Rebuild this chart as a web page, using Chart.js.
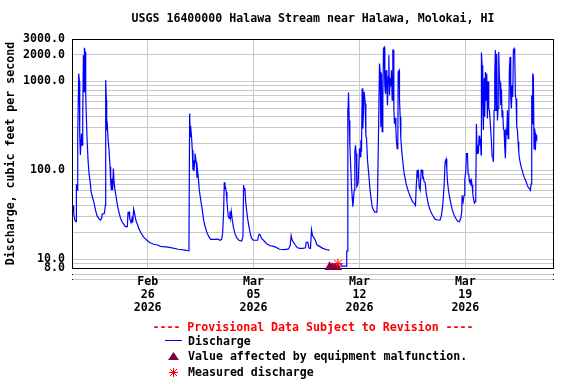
<!DOCTYPE html>
<html>
<head>
<meta charset="utf-8">
<title>USGS 16400000 Halawa Stream near Halawa, Molokai, HI</title>
<script src="https://cdn.jsdelivr.net/npm/chart.js@4.4.1/dist/chart.umd.min.js"></script>
<style>
  body { margin: 0; background: #fff; }
  #wrap { position: relative; width: 576px; height: 384px; font: bold 11.6px "DejaVu Sans Mono", monospace; color: #000; }
  #chart { position: absolute; left: 0; top: 0; }
  #notice { position: absolute; left: 72px; width: 482px; top: 319px; line-height: 16px; text-align: center; color: #f00; white-space: pre; }
  .item { position: absolute; left: 188px; line-height: 16px; white-space: pre; }
  .sym { position: absolute; display: block; }
</style>
</head>
<body>
<div id="wrap">
  <canvas id="chart" width="576" height="384"></canvas>
  <div id="notice">---- Provisional Data Subject to Revision ----</div>
  <span class="sym" style="left:165px;top:340px;width:17px;border-top:1px solid #00f"></span>
  <div class="item" style="top:333px">Discharge</div>
  <svg class="sym" style="left:168px;top:352px" width="11" height="8"><polygon points="5.5,0 11,8 0,8" fill="#800040"/></svg>
  <div class="item" style="top:348px">Value affected by equipment malfunction.</div>
  <svg class="sym" style="left:169px;top:368px" width="9" height="9"><path d="M4.5 0V9M0 4.5H9M1 1L8 8M8 1L1 8" stroke="#f00" stroke-width="1"/></svg>
  <div class="item" style="top:364px">Measured discharge</div>
</div>
<script>
// day 0 = Feb 21 2026 00:00
const startDate = Date.UTC(2026, 1, 21);
const monthNames = ['Jan', 'Feb', 'Mar', 'Apr', 'May', 'Jun', 'Jul', 'Aug', 'Sep', 'Oct', 'Nov', 'Dec'];

// Discharge, days since start / cfs (null = no data)
const days = [
  0.070, 0.114, 0.181, 0.269, 0.291, 0.335, 0.379, 0.445, 0.489, 0.511,
  0.555, 0.621, 0.665, 0.709, 0.753, 0.797, 0.819, 0.863, 0.907, 0.929,
  0.995, 1.061, 1.127, 1.215, 1.259, 1.347, 1.435, 1.501, 1.567, 1.656,
  1.766, 1.876, 1.964, 1.986, 2.140, 2.206, 2.228, 2.272, 2.294, 2.338,
  2.382, 2.448, 2.514, 2.558, 2.602, 2.646, 2.690, 2.734, 2.778, 2.844,
  2.933, 3.021, 3.109, 3.197, 3.307, 3.417, 3.527, 3.659, 3.703, 3.769,
  3.813, 3.901, 3.967, 4.011, 4.077, 4.121, 4.187, 4.254, 4.342, 4.430,
  4.562, 4.738, 4.914, 5.134, 5.398, 5.663, 5.839,
  6.367, 7.028, 7.468, 7.688, 7.732, 7.776, 7.820, 7.842, 7.908, 7.952,
  7.996, 8.018, 8.062, 8.106, 8.128, 8.216, 8.260, 8.304, 8.349, 8.415,
  8.525, 8.613, 8.701, 8.789, 8.899, 9.009, 9.163, 9.559, 9.625, 9.781,
  9.890, 9.956, 10.022, 10.066, 10.110, 10.154, 10.198, 10.242, 10.330, 10.396,
  10.441, 10.485, 10.529, 10.595, 10.683, 10.771, 10.881, 11.034, 11.211, 11.299,
  11.343, 11.387, 11.431, 11.475, 11.541, 11.607, 11.695, 11.783, 11.871, 11.982,
  12.268, 12.356, 12.422, 12.532, 12.752,
  12.840, 13.060, 13.391, 13.721, 14.051, 14.311, 14.421, 14.487, 14.553, 14.641,
  14.751, 14.883, 15.037, 15.258, 15.434, 15.478, 15.588, 15.654, 15.764, 15.830,
  15.896, 15.984, 16.076, 16.186, 16.362, 16.583, 16.803, 17.023, 17.400, 17.740,
  17.850, 18.150, 18.160, 18.210, 18.225, 18.240, 18.278, 18.322, 18.366, 18.432,
  18.476, 18.520, 18.564, 18.608, 18.652, 18.696, 18.740, 18.784, 18.828, 18.872,
  18.917, 19.005, 19.049, 19.093, 19.137, 19.181, 19.225,
  19.313, 19.379, 19.423, 19.467, 19.533, 19.621, 19.687, 19.753, 19.841, 19.929,
  20.018, 20.150, 20.194, 20.282, 20.326, 20.370, 20.414, 20.458, 20.502, 20.546,
  20.590, 20.634, 20.678, 20.722, 20.766, 20.810, 20.854, 20.898, 20.942, 20.986,
  21.030, 21.074, 21.118, 21.163, 21.207, 21.251, 21.273, 21.317, 21.361, 21.405,
  21.449, 21.493, 21.537, 21.559, 21.625, 21.647, 21.691, 21.735, 21.801, 21.867,
  21.911, 21.977, 22.043, 22.109, 22.175, 22.242, 22.308, 22.396, 22.506, 22.616,
  22.704, 22.748, 22.814, 22.858, 22.902, 22.946, 23.012, 23.078, 23.144, 23.188,
  23.232, 23.276, 23.342, 23.408, 23.474, 23.562, 23.650, 23.760, 23.870, 24.002,
  24.156, 24.333, 24.421, 24.509, 24.597, 24.663, 24.729, 24.773, 24.817, 24.883,
  24.971, 25.059, 25.147, 25.257, 25.367, 25.477, 25.609, 25.697, 25.763,
  25.786, 25.852, 25.918, 25.963, 26.029, 26.073, 26.139, 26.183, 26.227, 26.271,
  26.315, 26.359, 26.403, 26.447, 26.491, 26.557, 26.601, 26.645, 26.689, 26.733,
  26.777, 26.821, 26.865, 26.909, 26.953, 26.997, 27.041, 27.063, 27.107, 27.151,
  27.195, 27.239, 27.283, 27.327, 27.371, 27.415, 27.459, 27.503, 27.547, 27.591,
  27.636, 27.680, 27.724, 27.768, 27.812, 27.856, 27.900, 27.944, 27.988, 28.032,
  28.076, 28.120, 28.164, 28.208, 28.252, 28.296, 28.340, 28.384, 28.428, 28.472,
  28.516, 28.560, 28.604, 28.648, 28.692, 28.737, 28.781, 28.825, 28.869, 28.913,
  28.957, 29.001, 29.045, 29.089, 29.133, 29.177, 29.221, 29.265, 29.309, 29.353,
  29.397, 29.441, 29.485, 29.529, 29.573, 29.639, 29.705, 29.771, 29.837, 29.903,
  29.969, 30.035, 30.101, 30.167, 30.233, 30.299, 30.343, 30.387, 30.409, 30.453,
  30.497, 30.541, 30.585, 30.629, 30.673, 30.717
];
const flow = [
  40.7, 32.9, 27.7, 26.5, 70, 60, 249, 1230, 1000, 249,
  149, 260, 192, 401, 1977, 766, 2394, 2150, 720, 520,
  228, 130, 92.5, 71, 58, 50.6, 44.5, 39.6, 35, 31,
  28.9, 27.7, 28.9, 32.3, 33, 40.7, 1035, 617, 284, 317,
  228, 169, 110, 74.6, 60, 81, 60, 105, 75, 60,
  48.5, 39, 33.7, 29.4, 26.5, 24.9, 23.3, 23.3, 33.7, 34,
  28.9, 25.8, 28.9, 25.8, 36.7, 34, 29.4, 26.3, 24.3, 21.9,
  19.8, 17.8, 16.6, 15.5, 14.8, 14.5, 14,
  13.7, 13.0, 12.7, 12.5, 14.3, 437, 239, 317, 228, 169,
  101, 130, 98, 123, 155, 123, 83, 98, 83, 60,
  44.5, 35.8, 27.7, 23.7, 20.5, 18.5, 16.8, 16.8, 17, 16.4,
  16.8, 19.6, 34.4, 73.6, 62.8, 64, 57, 44.5, 30.2, 28.9,
  34.6, 29.4, 34.6, 27.7, 22.3, 19.6, 17.5, 16.4, 16.1, 18,
  68.4, 60, 63, 45.2, 35.8, 28.9, 23.3, 19.6, 17.2, 16.4,
  16.4, 19.1, 19.1, 17.2, 15.8,
  15.1, 14.3, 13.9, 13.0, 12.9, 13.1, 14.3, 18.5, 16.5, 15.5,
  14.6, 13.6, 13.3, 13.3, 13.5, 15.5, 15.5, 13.5, 13.3, 21.6,
  18.5, 17.6, 16.5, 14.6, 14.0, 13.3, 12.9, 12.6, null, 9.0,
  8.4, 8.4, 12.4, 12.4, 498, 384, 750, 365, 192, 101,
  65.6, 50.6, 39.2, 48, 60, 162, 192, 155, 65.6, 68,
  74.6, 176, 143, 218, 162, 836, 296,
  766, 566, 249, 228, 130, 88.6, 64, 50.6, 39.2, 35.8,
  34, 34, 47.2, 474, 1592, 1280, 310, 1230, 272, 617,
  2350, 2420, 906, 730, 1340, 880, 540, 1125, 1977, 700,
  1090, 880, 1340, 617, 2250, 2250, 498, 335, 390, 296,
  210, 176, 192, 1280, 1340, 640, 400, 228, 162, 125,
  105, 88.6, 78, 68, 62.8, 57, 53.6, 49.4, 44.5, 42.7,
  40.4, 62.8, 101, 83, 92, 65.6, 60, 101, 101, 82,
  83, 74.6, 73, 57, 49, 41, 36.7, 33, 30.7, 28.3,
  27.7, 27.7, 31.3, 41, 68, 125, 134, 105, 76, 60,
  49, 41, 35.8, 31.3, 29, 27, 26.5, 29, 34.6,
  52.6, 44.5, 52.6, 77.7, 98, 155, 155, 92, 89, 74.6,
  77.7, 73, 77, 68, 55, 46.4, 43, 44.5, 55, 335,
  155, 192, 155, 246, 192, 228, 149, 2110, 1525, 498,
  284, 1090, 401, 1280, 617, 1230, 384, 1000, 498, 474,
  365, 365, 210, 143, 140, 125, 474, 1230, 2250, 474,
  2050, 365, 498, 2150, 1090, 970, 540, 816, 400, 474,
  296, 284, 182, 137, 272, 249, 474, 228, 345, 1390,
  1900, 640, 498, 910, 670, 2250, 2340, 2050, 670, 640,
  310, 284, 210, 162, 137, 120, 107, 98, 89, 83,
  78, 73, 68, 64, 62.8, 60, 70, 700, 335, 1230,
  1125, 176, 296, 169, 249, 232
];

// equipment malfunction markers and field measurement
const malfunctionDays = [17.03, 17.20, 17.38, 17.56];
const malfunctionFlow = [8.15, 7.95, 7.9, 7.9];
const measuredDays = [17.58];
const measuredFlow = [8.95];

// axis ticks
const xTickDays = [5, 12, 19, 26];
const yGridValues = [8, 9, 10, 20, 30, 40, 50, 60, 70, 80, 90, 100, 200, 300, 400, 500, 600, 700, 800, 900, 1000, 2000, 3000];
const yLabelValues = [8, 10, 100, 1000, 2000, 3000];

const gridColor = '#c8c8c8';
const monoFont = { family: '"DejaVu Sans Mono", monospace', size: 11.6, weight: 'bold' };

function dateLabel(d) {
    const t = new Date(startDate + d * 86400000);
    return [monthNames[t.getUTCMonth()], String(t.getUTCDate()).padStart(2, '0'), String(t.getUTCFullYear())];
}

function toPoints(xs, ys) {
    return xs.map((x, i) => ({ x: x, y: ys[i] }));
}

// plot frame and the two rule lines under the x axis
const framePlugin = {
    id: 'frame',
    beforeDraw(chart) {
        const { ctx, chartArea: a } = chart;
        ctx.save();
        ctx.strokeStyle = gridColor;
        ctx.lineWidth = 1;
        [6, 11].forEach(off => {
            const y = Math.round(a.bottom + off) + 0.5;
            ctx.beginPath();
            ctx.moveTo(a.left, y);
            ctx.lineTo(a.right, y);
            ctx.stroke();
            ctx.fillStyle = '#000';
            ctx.fillRect(Math.round(a.left), y - 0.5, 1, 1);
            ctx.fillRect(Math.round(a.right) - 1, y - 0.5, 1, 1);
        });
        ctx.restore();
    },
    beforeDatasetsDraw(chart) {
        const { ctx, chartArea: a } = chart;
        ctx.save();
        ctx.strokeStyle = '#000';
        ctx.lineWidth = 1;
        ctx.strokeRect(Math.round(a.left) + 0.5, Math.round(a.top) + 0.5,
            Math.round(a.right - a.left) - 1, Math.round(a.bottom - a.top));
        ctx.restore();
    }
};

new Chart(document.getElementById('chart'), {
    type: 'line',
    data: {
        datasets: [
            {
                label: 'Measured discharge',
                data: toPoints(measuredDays, measuredFlow),
                showLine: false,
                pointStyle: 'star',
                pointRadius: 5,
                borderColor: '#ff0000',
                backgroundColor: '#ff0000',
                pointBorderWidth: 1,
                clip: false,
                order: 1
            },
            {
                label: 'Value affected by equipment malfunction.',
                data: toPoints(malfunctionDays, malfunctionFlow),
                showLine: false,
                pointStyle: 'triangle',
                pointRadius: 6,
                borderColor: '#800040',
                backgroundColor: '#800040',
                pointBorderWidth: 0,
                clip: { left: 8, top: 8, right: 8, bottom: 2 },
                order: 2
            },
            {
                label: 'Discharge',
                data: toPoints(days, flow),
                borderColor: '#0000ff',
                borderWidth: 1.2,
                pointRadius: 0,
                tension: 0,
                spanGaps: false,
                order: 3
            }
        ]
    },
    options: {
        responsive: false,
        animation: false,
        devicePixelRatio: 1,
        layout: { padding: { left: 0, right: 22, top: 0, bottom: 0 } },
        plugins: {
            legend: { display: false },
            tooltip: { enabled: false },
            title: {
                display: true,
                fullSize: false,
                text: 'USGS 16400000 Halawa Stream near Halawa, Molokai, HI',
                color: '#000',
                font: monoFont,
                padding: { top: 12, bottom: 13.1 }
            }
        },
        scales: {
            x: {
                type: 'linear',
                min: 0,
                max: 31.86,
                afterFit: s => { s.height = 116; },
                afterBuildTicks: s => { s.ticks = xTickDays.map(v => ({ value: v })); },
                grid: { color: gridColor, drawTicks: false },
                border: { display: false },
                ticks: {
                    padding: 7.5,
                    color: '#000',
                    maxRotation: 0,
                    autoSkip: false,
                    font: Object.assign({ lineHeight: 1.12 }, monoFont),
                    callback: v => dateLabel(v)
                }
            },
            y: {
                type: 'logarithmic',
                min: 8,
                max: 3000,
                afterFit: s => { s.width = 72; },
                afterBuildTicks: s => { s.ticks = yGridValues.map(v => ({ value: v })); },
                grid: { color: gridColor, drawTicks: false },
                border: { display: false },
                title: {
                    display: true,
                    text: 'Discharge, cubic feet per second',
                    color: '#000',
                    font: monoFont,
                    padding: { top: 4.5, bottom: 0 }
                },
                ticks: {
                    padding: 7,
                    color: '#000',
                    autoSkip: false,
                    font: monoFont,
                    callback: v => yLabelValues.includes(v) ? v.toFixed(1) : ''
                }
            }
        }
    },
    plugins: [framePlugin]
});
</script>
</body>
</html>
